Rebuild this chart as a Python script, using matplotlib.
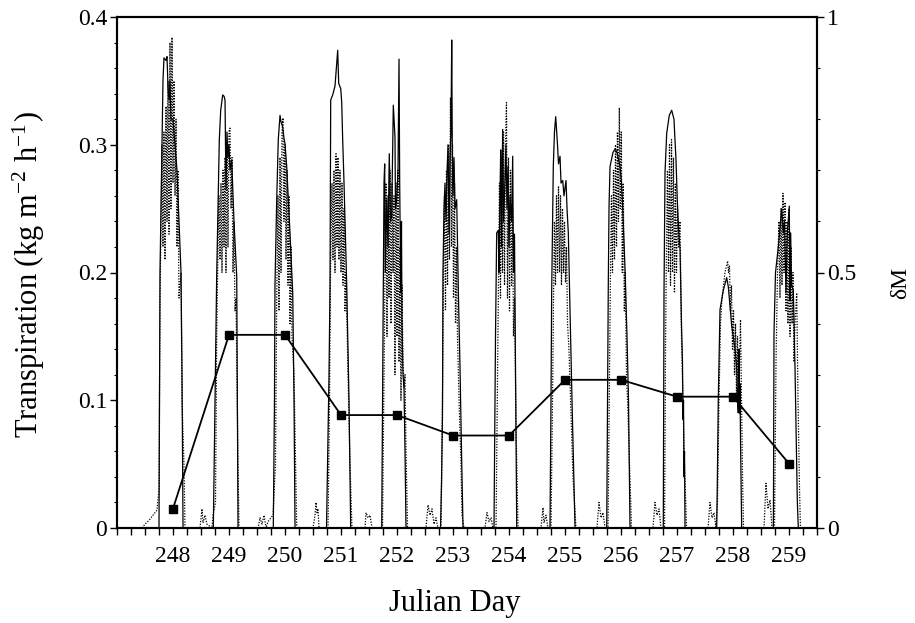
import matplotlib
matplotlib.use("Agg")
import matplotlib.pyplot as plt
from matplotlib.ticker import MultipleLocator, FixedLocator

plt.rcParams['font.family'] = ['Liberation Serif', 'DejaVu Serif']
plt.rcParams['mathtext.fontset'] = 'stix'

# labelled Julian days
days = [248, 249, 250, 251, 252, 253, 254, 255, 256, 257, 258, 259]

# measured transpiration (solid): (offset from labelled day [d], kg m-2 h-1)
solid_pts = [
    [(-0.250, 0), (-0.232, 0.20), (-0.196, 0.30), (-0.179, 0.35), (-0.161, 0.368), (-0.125, 0.366),
     (-0.107, 0.369), (-0.089, 0.345), (-0.071, 0.335), (-0.054, 0.35), (-0.036, 0.32), (0.0, 0.32),
     (0.036, 0.30), (0.071, 0.28), (0.107, 0.24), (0.143, 0.20), (0.161, 0.12), (0.179, 0)],
    [(-0.280, 0), (-0.250, 0.10), (-0.220, 0.197), (-0.173, 0.304), (-0.148, 0.327), (-0.113, 0.339),
     (-0.089, 0.338), (-0.071, 0.335), (-0.054, 0.265), (-0.036, 0.31), (-0.018, 0.29), (0.0, 0.30),
     (0.018, 0.28), (0.048, 0.288), (0.089, 0.24), (0.138, 0.197), (0.161, 0)],
    [(-0.209, 0), (-0.188, 0.10), (-0.179, 0.19), (-0.148, 0.257), (-0.120, 0.304), (-0.089, 0.323),
     (-0.071, 0.318), (-0.041, 0.314), (-0.018, 0.305), (0.0, 0.301), (0.030, 0.283), (0.089, 0.231),
     (0.138, 0.184), (0.161, 0.10), (0.179, 0)],
    [(-0.259, 0), (-0.214, 0.12), (-0.196, 0.19), (-0.188, 0.30), (-0.184, 0.335), (-0.148, 0.339),
     (-0.107, 0.346), (-0.077, 0.364), (-0.059, 0.374), (-0.041, 0.348), (-0.005, 0.344), (0.013, 0.333),
     (0.030, 0.304), (0.054, 0.27), (0.102, 0.19), (0.143, 0.10), (0.173, 0)],
    [(-0.273, 0), (-0.245, 0.18), (-0.232, 0.27), (-0.220, 0.285), (-0.209, 0.20), (-0.184, 0.257),
     (-0.161, 0.22), (-0.138, 0.293), (-0.116, 0.24), (-0.095, 0.244), (-0.066, 0.331), (-0.036, 0.306),
     (-0.027, 0.25), (-0.005, 0.257), (0.018, 0.28), (0.036, 0.367), (0.048, 0.27), (0.066, 0.184),
     (0.080, 0.24), (0.089, 0.16), (0.107, 0.12), (0.125, 0.11), (0.143, 0.06), (0.161, 0)],
    [(-0.223, 0), (-0.205, 0.035), (-0.188, 0.087), (-0.179, 0.20), (-0.161, 0.25), (-0.143, 0.27),
     (-0.125, 0.24), (-0.107, 0.278), (-0.089, 0.30), (-0.071, 0.23), (-0.054, 0.29), (-0.036, 0.31),
     (-0.023, 0.382), (-0.013, 0.30), (0.0, 0.26), (0.018, 0.29), (0.036, 0.25), (0.066, 0.257),
     (0.098, 0.18), (0.125, 0.126), (0.152, 0.06), (0.179, 0)],
    [(-0.268, 0), (-0.241, 0.15), (-0.220, 0.231), (-0.191, 0.233), (-0.179, 0.20), (-0.161, 0.26),
     (-0.148, 0.296), (-0.134, 0.22), (-0.113, 0.312), (-0.098, 0.24), (-0.071, 0.272), (-0.054, 0.30),
     (-0.036, 0.25), (-0.018, 0.283), (0.0, 0.22), (0.018, 0.26), (0.045, 0.24), (0.066, 0.291),
     (0.080, 0.20), (0.098, 0.23), (0.116, 0.13), (0.138, 0)],
    [(-0.268, 0), (-0.250, 0.10), (-0.238, 0.184), (-0.209, 0.283), (-0.188, 0.31), (-0.166, 0.322),
     (-0.148, 0.31), (-0.134, 0.30), (-0.116, 0.285), (-0.089, 0.291), (-0.071, 0.27), (-0.041, 0.272),
     (-0.018, 0.26), (0.018, 0.272), (0.036, 0.25), (0.059, 0.231), (0.089, 0.17), (0.125, 0.10),
     (0.152, 0.05), (0.179, 0)],
    [(-0.255, 0), (-0.241, 0.10), (-0.227, 0.19), (-0.214, 0.251), (-0.196, 0.283), (-0.143, 0.294),
     (-0.102, 0.297), (-0.066, 0.293), (-0.018, 0.283), (0.009, 0.27), (0.030, 0.251), (0.071, 0.204),
     (0.107, 0.15), (0.134, 0.10), (0.161, 0)],
    [(-0.245, 0), (-0.232, 0.184), (-0.214, 0.278), (-0.184, 0.309), (-0.138, 0.323), (-0.095, 0.327),
     (-0.054, 0.32), (-0.018, 0.288), (0.005, 0.257), (0.027, 0.235), (0.054, 0.218), (0.080, 0.16),
     (0.098, 0.13), (0.107, 0.085), (0.116, 0.10), (0.125, 0.04), (0.134, 0.06), (0.143, 0)],
    [(-0.291, 0), (-0.280, 0.035), (-0.263, 0.10), (-0.241, 0.15), (-0.232, 0.171), (-0.173, 0.186),
     (-0.113, 0.196), (-0.084, 0.189), (-0.023, 0.158), (0.005, 0.15), (0.036, 0.14), (0.066, 0.126),
     (0.080, 0.10), (0.095, 0.09), (0.107, 0.14), (0.116, 0.09), (0.125, 0.113), (0.134, 0.07),
     (0.155, 0)],
    [(-0.280, 0), (-0.277, 0.022), (-0.268, 0.152), (-0.241, 0.20), (-0.191, 0.22), (-0.130, 0.25),
     (-0.102, 0.231), (-0.080, 0.24), (-0.054, 0.184), (-0.030, 0.231), (0.005, 0.252), (0.018, 0.178),
     (0.030, 0.231), (0.045, 0.19), (0.077, 0.186), (0.107, 0.126), (0.148, 0.022), (0.166, 0)],
]

# simulated transpiration (dotted): (offset from labelled day [d], kg m-2 h-1)
dotted_pts = [
    [(-0.554, 0), (-0.500, 0.003), (-0.429, 0.006), (-0.357, 0.01), (-0.286, 0.014), (-0.250, 0.03),
     (-0.232, 0.18), (-0.214, 0.24), (-0.196, 0.30), (-0.179, 0.22), (-0.161, 0.31), (-0.143, 0.21),
     (-0.125, 0.33), (-0.107, 0.24), (-0.089, 0.35), (-0.071, 0.23), (-0.054, 0.38), (-0.036, 0.25),
     (-0.018, 0.384), (0.0, 0.27), (0.018, 0.35), (0.036, 0.26), (0.054, 0.32), (0.071, 0.22),
     (0.089, 0.28), (0.107, 0.18), (0.143, 0.20), (0.161, 0.10), (0.196, 0.05), (0.214, 0)],
    [(-0.518, 0), (-0.482, 0.015), (-0.464, 0.004), (-0.429, 0.01), (-0.393, 0.003), (-0.304, 0),
     (-0.286, 0.01), (-0.241, 0.02), (-0.220, 0.15), (-0.196, 0.22), (-0.179, 0.26), (-0.161, 0.21),
     (-0.143, 0.27), (-0.125, 0.20), (-0.107, 0.28), (-0.089, 0.22), (-0.071, 0.29), (-0.054, 0.20),
     (-0.036, 0.30), (-0.018, 0.22), (0.0, 0.31), (0.018, 0.313), (0.036, 0.25), (0.054, 0.29),
     (0.071, 0.20), (0.089, 0.24), (0.107, 0.17), (0.125, 0.18), (0.161, 0.05), (0.179, 0)],
    [(-0.482, 0), (-0.446, 0.008), (-0.411, 0.003), (-0.375, 0.01), (-0.339, 0), (-0.304, 0.005),
     (-0.214, 0.01), (-0.170, 0.05), (-0.148, 0.18), (-0.125, 0.26), (-0.107, 0.17), (-0.089, 0.29),
     (-0.071, 0.20), (-0.054, 0.31), (-0.036, 0.321), (-0.018, 0.24), (0.0, 0.30), (0.018, 0.21),
     (0.036, 0.28), (0.054, 0.19), (0.071, 0.26), (0.089, 0.16), (0.107, 0.22), (0.125, 0.15),
     (0.161, 0.12), (0.209, 0)],
    [(-0.500, 0), (-0.464, 0.01), (-0.446, 0.02), (-0.429, 0.012), (-0.411, 0.015), (-0.393, 0),
     (-0.232, 0), (-0.205, 0.10), (-0.188, 0.20), (-0.161, 0.27), (-0.143, 0.21), (-0.125, 0.28),
     (-0.107, 0.20), (-0.089, 0.293), (-0.071, 0.22), (-0.054, 0.29), (-0.036, 0.21), (-0.018, 0.28),
     (0.0, 0.20), (0.018, 0.27), (0.036, 0.19), (0.054, 0.25), (0.071, 0.17), (0.089, 0.20),
     (0.125, 0.12), (0.161, 0.05), (0.196, 0)],
    [(-0.571, 0), (-0.554, 0.012), (-0.518, 0.008), (-0.482, 0.01), (-0.446, 0), (-0.259, 0),
     (-0.232, 0.12), (-0.214, 0.20), (-0.196, 0.27), (-0.179, 0.15), (-0.161, 0.26), (-0.143, 0.18),
     (-0.125, 0.28), (-0.107, 0.16), (-0.089, 0.27), (-0.071, 0.20), (-0.054, 0.26), (-0.036, 0.12),
     (-0.018, 0.27), (0.0, 0.15), (0.018, 0.28), (0.036, 0.13), (0.054, 0.22), (0.071, 0.10),
     (0.089, 0.19), (0.107, 0.13), (0.125, 0.11), (0.143, 0.12), (0.161, 0.06), (0.188, 0)],
    [(-0.482, 0), (-0.446, 0.018), (-0.411, 0.01), (-0.375, 0.015), (-0.339, 0.003), (-0.304, 0.008),
     (-0.268, 0), (-0.214, 0), (-0.188, 0.10), (-0.170, 0.20), (-0.152, 0.26), (-0.134, 0.17),
     (-0.116, 0.28), (-0.098, 0.19), (-0.080, 0.30), (-0.063, 0.21), (-0.045, 0.337), (-0.027, 0.22),
     (-0.009, 0.30), (0.009, 0.18), (0.027, 0.27), (0.045, 0.16), (0.063, 0.22), (0.080, 0.15),
     (0.098, 0.12), (0.116, 0.087), (0.143, 0.05), (0.161, 0.01), (0.196, 0)],
    [(-0.429, 0), (-0.393, 0.012), (-0.357, 0.005), (-0.321, 0.008), (-0.286, 0), (-0.232, 0),
     (-0.205, 0.12), (-0.188, 0.20), (-0.170, 0.27), (-0.152, 0.18), (-0.134, 0.29), (-0.116, 0.20),
     (-0.098, 0.31), (-0.080, 0.19), (-0.063, 0.30), (-0.045, 0.333), (-0.027, 0.18), (-0.009, 0.29),
     (0.009, 0.17), (0.027, 0.28), (0.045, 0.19), (0.063, 0.25), (0.080, 0.15), (0.098, 0.18),
     (0.125, 0.08), (0.161, 0)],
    [(-0.429, 0), (-0.393, 0.016), (-0.375, 0.004), (-0.339, 0.01), (-0.304, 0), (-0.250, 0),
     (-0.223, 0.10), (-0.205, 0.18), (-0.188, 0.24), (-0.170, 0.19), (-0.152, 0.26), (-0.134, 0.20),
     (-0.116, 0.267), (-0.098, 0.20), (-0.080, 0.26), (-0.063, 0.19), (-0.045, 0.25), (-0.027, 0.20),
     (-0.009, 0.24), (0.009, 0.192), (0.027, 0.22), (0.045, 0.16), (0.071, 0.14), (0.107, 0.09),
     (0.143, 0.04), (0.196, 0)],
    [(-0.429, 0), (-0.393, 0.02), (-0.357, 0.008), (-0.321, 0.012), (-0.286, 0), (-0.232, 0),
     (-0.205, 0.12), (-0.188, 0.20), (-0.170, 0.26), (-0.152, 0.20), (-0.134, 0.28), (-0.116, 0.21),
     (-0.098, 0.30), (-0.080, 0.22), (-0.063, 0.31), (-0.045, 0.24), (-0.030, 0.329), (-0.013, 0.25),
     (0.005, 0.31), (0.023, 0.20), (0.041, 0.27), (0.059, 0.17), (0.077, 0.20), (0.098, 0.12),
     (0.125, 0.09), (0.152, 0.05), (0.188, 0)],
    [(-0.429, 0), (-0.393, 0.02), (-0.357, 0.01), (-0.321, 0.015), (-0.286, 0), (-0.223, 0),
     (-0.205, 0.14), (-0.188, 0.22), (-0.170, 0.28), (-0.152, 0.20), (-0.134, 0.30), (-0.116, 0.19),
     (-0.098, 0.304), (-0.080, 0.20), (-0.063, 0.29), (-0.045, 0.184), (-0.027, 0.27), (-0.009, 0.20),
     (0.009, 0.25), (0.027, 0.22), (0.054, 0.24), (0.080, 0.15), (0.107, 0.10), (0.134, 0.05),
     (0.170, 0)],
    [(-0.446, 0), (-0.411, 0.02), (-0.375, 0.008), (-0.339, 0.012), (-0.304, 0), (-0.277, 0.02),
     (-0.250, 0.10), (-0.223, 0.16), (-0.196, 0.18), (-0.170, 0.19), (-0.143, 0.20), (-0.116, 0.205),
     (-0.095, 0.209), (-0.080, 0.20), (-0.063, 0.205), (-0.045, 0.17), (-0.027, 0.19), (-0.009, 0.14),
     (0.009, 0.17), (0.027, 0.12), (0.045, 0.16), (0.063, 0.10), (0.080, 0.15), (0.098, 0.09),
     (0.116, 0.13), (0.134, 0.163), (0.152, 0.10), (0.170, 0.04), (0.188, 0)],
    [(-0.446, 0), (-0.411, 0.035), (-0.375, 0.015), (-0.339, 0.022), (-0.304, 0), (-0.259, 0),
     (-0.232, 0.13), (-0.205, 0.20), (-0.179, 0.24), (-0.161, 0.18), (-0.143, 0.25), (-0.125, 0.19),
     (-0.107, 0.262), (-0.089, 0.20), (-0.071, 0.255), (-0.054, 0.17), (-0.036, 0.24), (-0.018, 0.16),
     (0.0, 0.25), (0.018, 0.15), (0.036, 0.22), (0.054, 0.16), (0.071, 0.20), (0.089, 0.13),
     (0.107, 0.16), (0.138, 0.184), (0.161, 0.10), (0.188, 0.03), (0.205, 0)],
]

# dM, one value per labelled day
dm_values = [0.038, 0.378, 0.378, 0.221, 0.221, 0.181, 0.181, 0.29, 0.29, 0.257, 0.257, 0.126]

x_ticklabels = [str(d) for d in days]
y_ticklabels = ['0', '0.1', '0.2', '0.3', '0.4']
y2_ticklabels = ['0', '0.5', '1']


def series(pts):
    t, v = [], []
    for d, day in zip(days, pts):
        for off, val in day:
            t.append(d + off)
            v.append(val)
    return t, v


solid_t, solid_v = series(solid_pts)
dotted_t, dotted_v = series(dotted_pts)

fig = plt.figure(figsize=(9.15, 6.23), dpi=100)
ax = fig.add_axes([117 / 915, 95 / 623, 700 / 915, 511 / 623])

ax.plot(dotted_t, dotted_v, color='black', lw=0.9, linestyle=(0, (1, 1.2)))
ax.plot(solid_t, solid_v, color='black', lw=0.9)

ax.set_xlim(247.0, 259.5)
ax.set_ylim(0, 0.4)
ax.xaxis.set_major_locator(FixedLocator(days))
ax.set_xticklabels(x_ticklabels)
ax.xaxis.set_minor_locator(MultipleLocator(0.25))
ax.yaxis.set_major_locator(FixedLocator([0, 0.1, 0.2, 0.3, 0.4]))
ax.set_yticklabels(y_ticklabels)
ax.yaxis.set_minor_locator(MultipleLocator(0.02))

ax.tick_params(axis='x', which='both', direction='out', length=5, width=1, labelsize=17, pad=8)
ax.tick_params(axis='y', which='major', direction='out', length=5, width=1, labelsize=17, pad=2)
ax.tick_params(axis='y', which='minor', direction='out', length=2.5, width=0.8)

for s in ax.spines.values():
    s.set_linewidth(1.5)

ax.set_xlabel('Julian Day', fontsize=22)
ax.xaxis.set_label_coords(0.482, -0.12)
ax.set_ylabel(r'Transpiration (kg m$^{\mathregular{-2}}$ h$^{\mathregular{-1}}$)', fontsize=22)
ax.yaxis.set_label_coords(-0.100, 0.495)

ax2 = ax.twinx()
ax2.plot(days, dm_values, color='black', lw=1.3, marker='s', markersize=5.5)
ax2.set_ylim(0, 1)
ax2.yaxis.set_major_locator(FixedLocator([0, 0.5, 1]))
ax2.set_yticklabels(y2_ticklabels)
ax2.yaxis.set_minor_locator(MultipleLocator(0.1))
ax2.tick_params(axis='y', which='major', direction='out', length=5, width=1, labelsize=17, pad=2)
ax2.tick_params(axis='y', which='minor', direction='out', length=2.5, width=0.8)
for s in ax2.spines.values():
    s.set_linewidth(1.5)
ax2.set_ylabel('δM', fontsize=17, rotation=90)
ax2.yaxis.set_label_coords(1.105, 0.48)

fig.savefig('out.png', dpi=100)
